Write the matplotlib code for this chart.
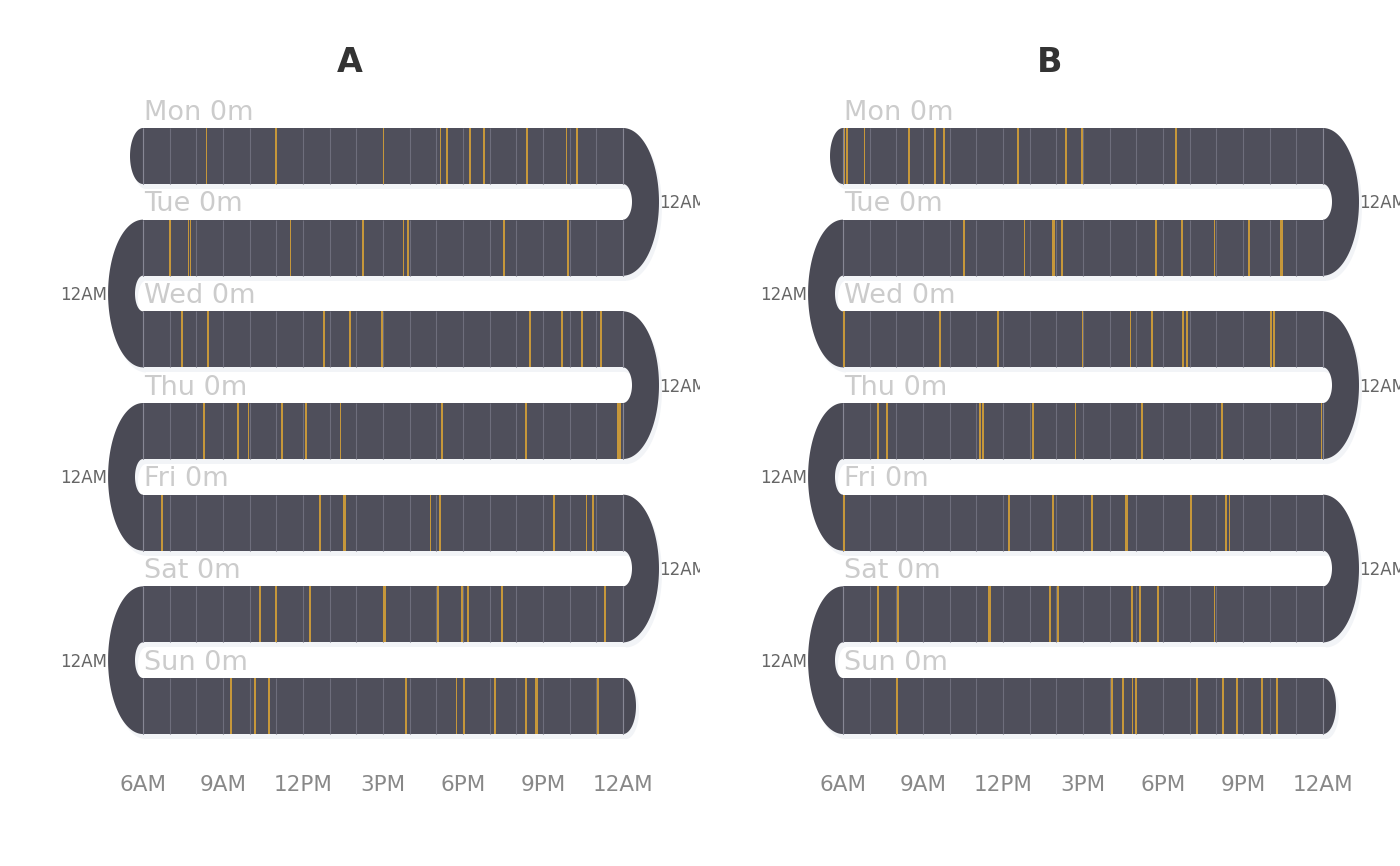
import numpy as np
import matplotlib
matplotlib.use("Agg")
import matplotlib.pyplot as plt
from matplotlib.patches import Polygon

# ---- data ----
days = ["Mon", "Tue", "Wed", "Thu", "Fri", "Sat", "Sun"]
day_totals = ["0m", "0m", "0m", "0m", "0m", "0m", "0m"]
panels = ["A", "B"]

tick_hours = [6, 9, 12, 15, 18, 21, 24]
tick_labels = ["6AM", "9AM", "12PM", "3PM", "6PM", "9PM", "12AM"]

# event start hour per day, panel A
a_times = [
    [8.375, 11.0, 15.025, 17.15, 17.4, 18.25, 18.79, 20.41, 21.875, 22.275],
    [7.025, 7.7, 7.79, 11.525, 14.25, 15.775, 15.95, 19.54, 21.94],
    [7.46, 8.44, 12.8, 13.775, 14.95, 20.51, 21.7, 22.45, 23.16],
    [8.275, 9.55, 9.95, 11.2, 12.1, 13.4, 17.225, 20.36, 23.85],
    [6.7, 12.625, 13.54, 16.775, 17.125, 21.41, 22.625, 22.875],
    [10.39, 10.99, 12.25, 15.05, 17.06, 17.975, 18.19, 19.45, 23.31],
    [9.31, 10.2, 10.725, 15.85, 17.75, 18.025, 19.2, 20.36, 20.76, 23.06],
]
# event length in minutes, panel A
a_mins = [
    [3.4, 5, 3.4, 3.4, 3.4, 5, 3.4, 5, 3.4, 3.4],
    [4.2, 3.4, 3.4, 3.4, 3.4, 3.4, 5, 3.4, 3.4],
    [3.4, 3.4, 4.2, 4.6, 5, 3.4, 4.6, 4.2, 4.2],
    [4.2, 4.6, 3.4, 4.6, 4.6, 3.4, 4.6, 3.4, 7.5],
    [4.6, 4.6, 6.5, 3.4, 5, 3.4, 3.4, 6.5],
    [3.4, 3.4, 4.6, 6.5, 3.4, 3.8, 3.4, 4.6, 4.6],
    [4.6, 3.4, 3.4, 5, 3.4, 3.8, 3.4, 3.4, 5, 3.4],
]

# panel B
b_times = [
    [6.06, 6.16, 6.8, 8.475, 9.45, 9.79, 12.56, 14.35, 14.95, 18.49],
    [10.54, 12.8, 13.89, 14.21, 17.75, 18.7, 19.925, 21.225, 22.44],
    [6.04, 9.65, 11.8, 14.975, 16.775, 17.59, 18.75, 18.91, 22.06, 22.175],
    [7.3, 7.65, 11.15, 11.26, 13.125, 14.71, 17.21, 20.21, 23.94],
    [6.05, 12.21, 13.875, 15.325, 16.59, 16.65, 19.05, 20.375, 20.5],
    [7.3, 8.05, 11.45, 11.51, 13.76, 14.05, 16.85, 17.125, 17.8, 19.925],
    [8.01, 16.09, 16.5, 16.85, 16.975, 19.275, 20.25, 20.775, 21.7, 22.275],
]
b_mins = [
    [3.4, 5, 3.4, 3.4, 3.4, 3.4, 4.6, 4.6, 5, 3.4],
    [3.4, 3.4, 5, 3.4, 4.6, 4.6, 3.4, 3.4, 8.5],
    [3.4, 4.6, 4.6, 3.4, 3.4, 3.4, 3.4, 5, 4.6, 4.6],
    [4.6, 3.4, 4.6, 5, 3.4, 3.4, 3.4, 3.4, 3.4],
    [5, 4.6, 3.4, 4.6, 3.4, 3.4, 3.4, 4.6, 3.4],
    [4.6, 4.6, 3.4, 3.4, 3.4, 4.6, 4.6, 4.6, 4.6, 3.4],
    [4.6, 3.4, 3.4, 3.4, 4.6, 3.4, 3.4, 3.4, 4.6, 3.4],
]

# ---- style ----
band_c = "#4f4f5b"
turn_c = "#4a4a55"
grid_c = "#6e6e7c"
gold = "#c6973a"
shadow_c = "#f2f4f7"
h = 0.611          # band height in row units
start, end = 6, 24


def half_ellipse(xc, yc, rx, ry, side, reverse=False):
    t = np.linspace(-np.pi / 2, np.pi / 2, 80)
    if reverse:
        t = t[::-1]
    return np.column_stack([xc + side * rx * np.cos(t), yc + ry * np.sin(t)])


def serpentine(dx=0.0, dy=0.0):
    shapes = []
    for i in range(len(days)):
        shapes.append(("band", np.array([[start, i], [end, i], [end, i + h], [start, i + h]]) + [dx, dy]))
    for i in range(len(days) - 1):
        yc = i + (1 + h) / 2
        if i % 2 == 0:
            xe, s, ro, ri = end, 1, 1.35, 0.3375
        else:
            xe, s, ro, ri = start, -1, 1.31, 0.30
        outer = half_ellipse(xe, yc, ro, (1 + h) / 2, s)
        inner = half_ellipse(xe, yc, ri, (1 - h) / 2, s, reverse=True)
        shapes.append(("turn", np.vstack([outer, inner]) + [dx, dy]))
    cap0 = half_ellipse(start, h / 2, 0.4875, h / 2, -1)
    last = len(days) - 1
    cap1 = half_ellipse(end, last + h / 2, 0.4875, h / 2, 1)
    shapes.append(("turn", cap0 + [dx, dy]))
    shapes.append(("turn", cap1 + [dx, dy]))
    return shapes


fig = plt.figure(figsize=(14, 8.66), dpi=100)

for k, (name, times, mins) in enumerate([("A", a_times, a_mins), ("B", b_times, b_mins)]):
    ax = fig.add_axes([0.5 * k, 0, 0.5, 1])
    ax.set_xlim(0.6375, 26.8875)
    ax.set_ylim(8.0507, -1.3964)
    ax.axis("off")

    for kind, pts in serpentine(0.11, 0.055):
        ax.add_patch(Polygon(pts, closed=True, fc=shadow_c, ec="none", zorder=1))
    for kind, pts in serpentine():
        ax.add_patch(Polygon(pts, closed=True, fc=band_c if kind == "band" else turn_c,
                             ec="none", zorder=2))

    for i, d in enumerate(days):
        hrs = np.arange(start, end + 1)
        ax.vlines(hrs, i, i + h, colors=grid_c, lw=0.8, zorder=3)
        ax.vlines([start, end], i, i + h, colors="#878794", lw=0.8, zorder=3)
        ax.bar(times[i], h, width=np.array(mins[i]) / 60.0, bottom=i, align="center",
               color=gold, linewidth=0, zorder=4)
        ax.text(start + 0.04, i - 0.09, f"{d} {day_totals[i]}", fontsize=19.5,
                color="#cccccc", ha="left", va="baseline", zorder=5)

    for i in range(len(days) - 1):
        yc = i + (1 + h) / 2 + 0.015
        if i % 2 == 0:
            ax.text(end + 1.36, yc, "12AM", fontsize=12, color="#666666",
                    ha="left", va="center", clip_on=True, zorder=5)
        else:
            ax.text(start - 1.33, yc, "12AM", fontsize=12, color="#666666",
                    ha="right", va="center", clip_on=True, zorder=5)

    for hr, lab in zip(tick_hours, tick_labels):
        ax.text(hr, 7.167, lab, fontsize=15.5, color="#888888", ha="center", va="center")

    ax.text(0.5, 1 - 62 / 866, name, transform=ax.transAxes, fontsize=24,
            fontweight="bold", color="#333333", ha="center", va="center")

fig.savefig("out.png", dpi=100, facecolor="white")
